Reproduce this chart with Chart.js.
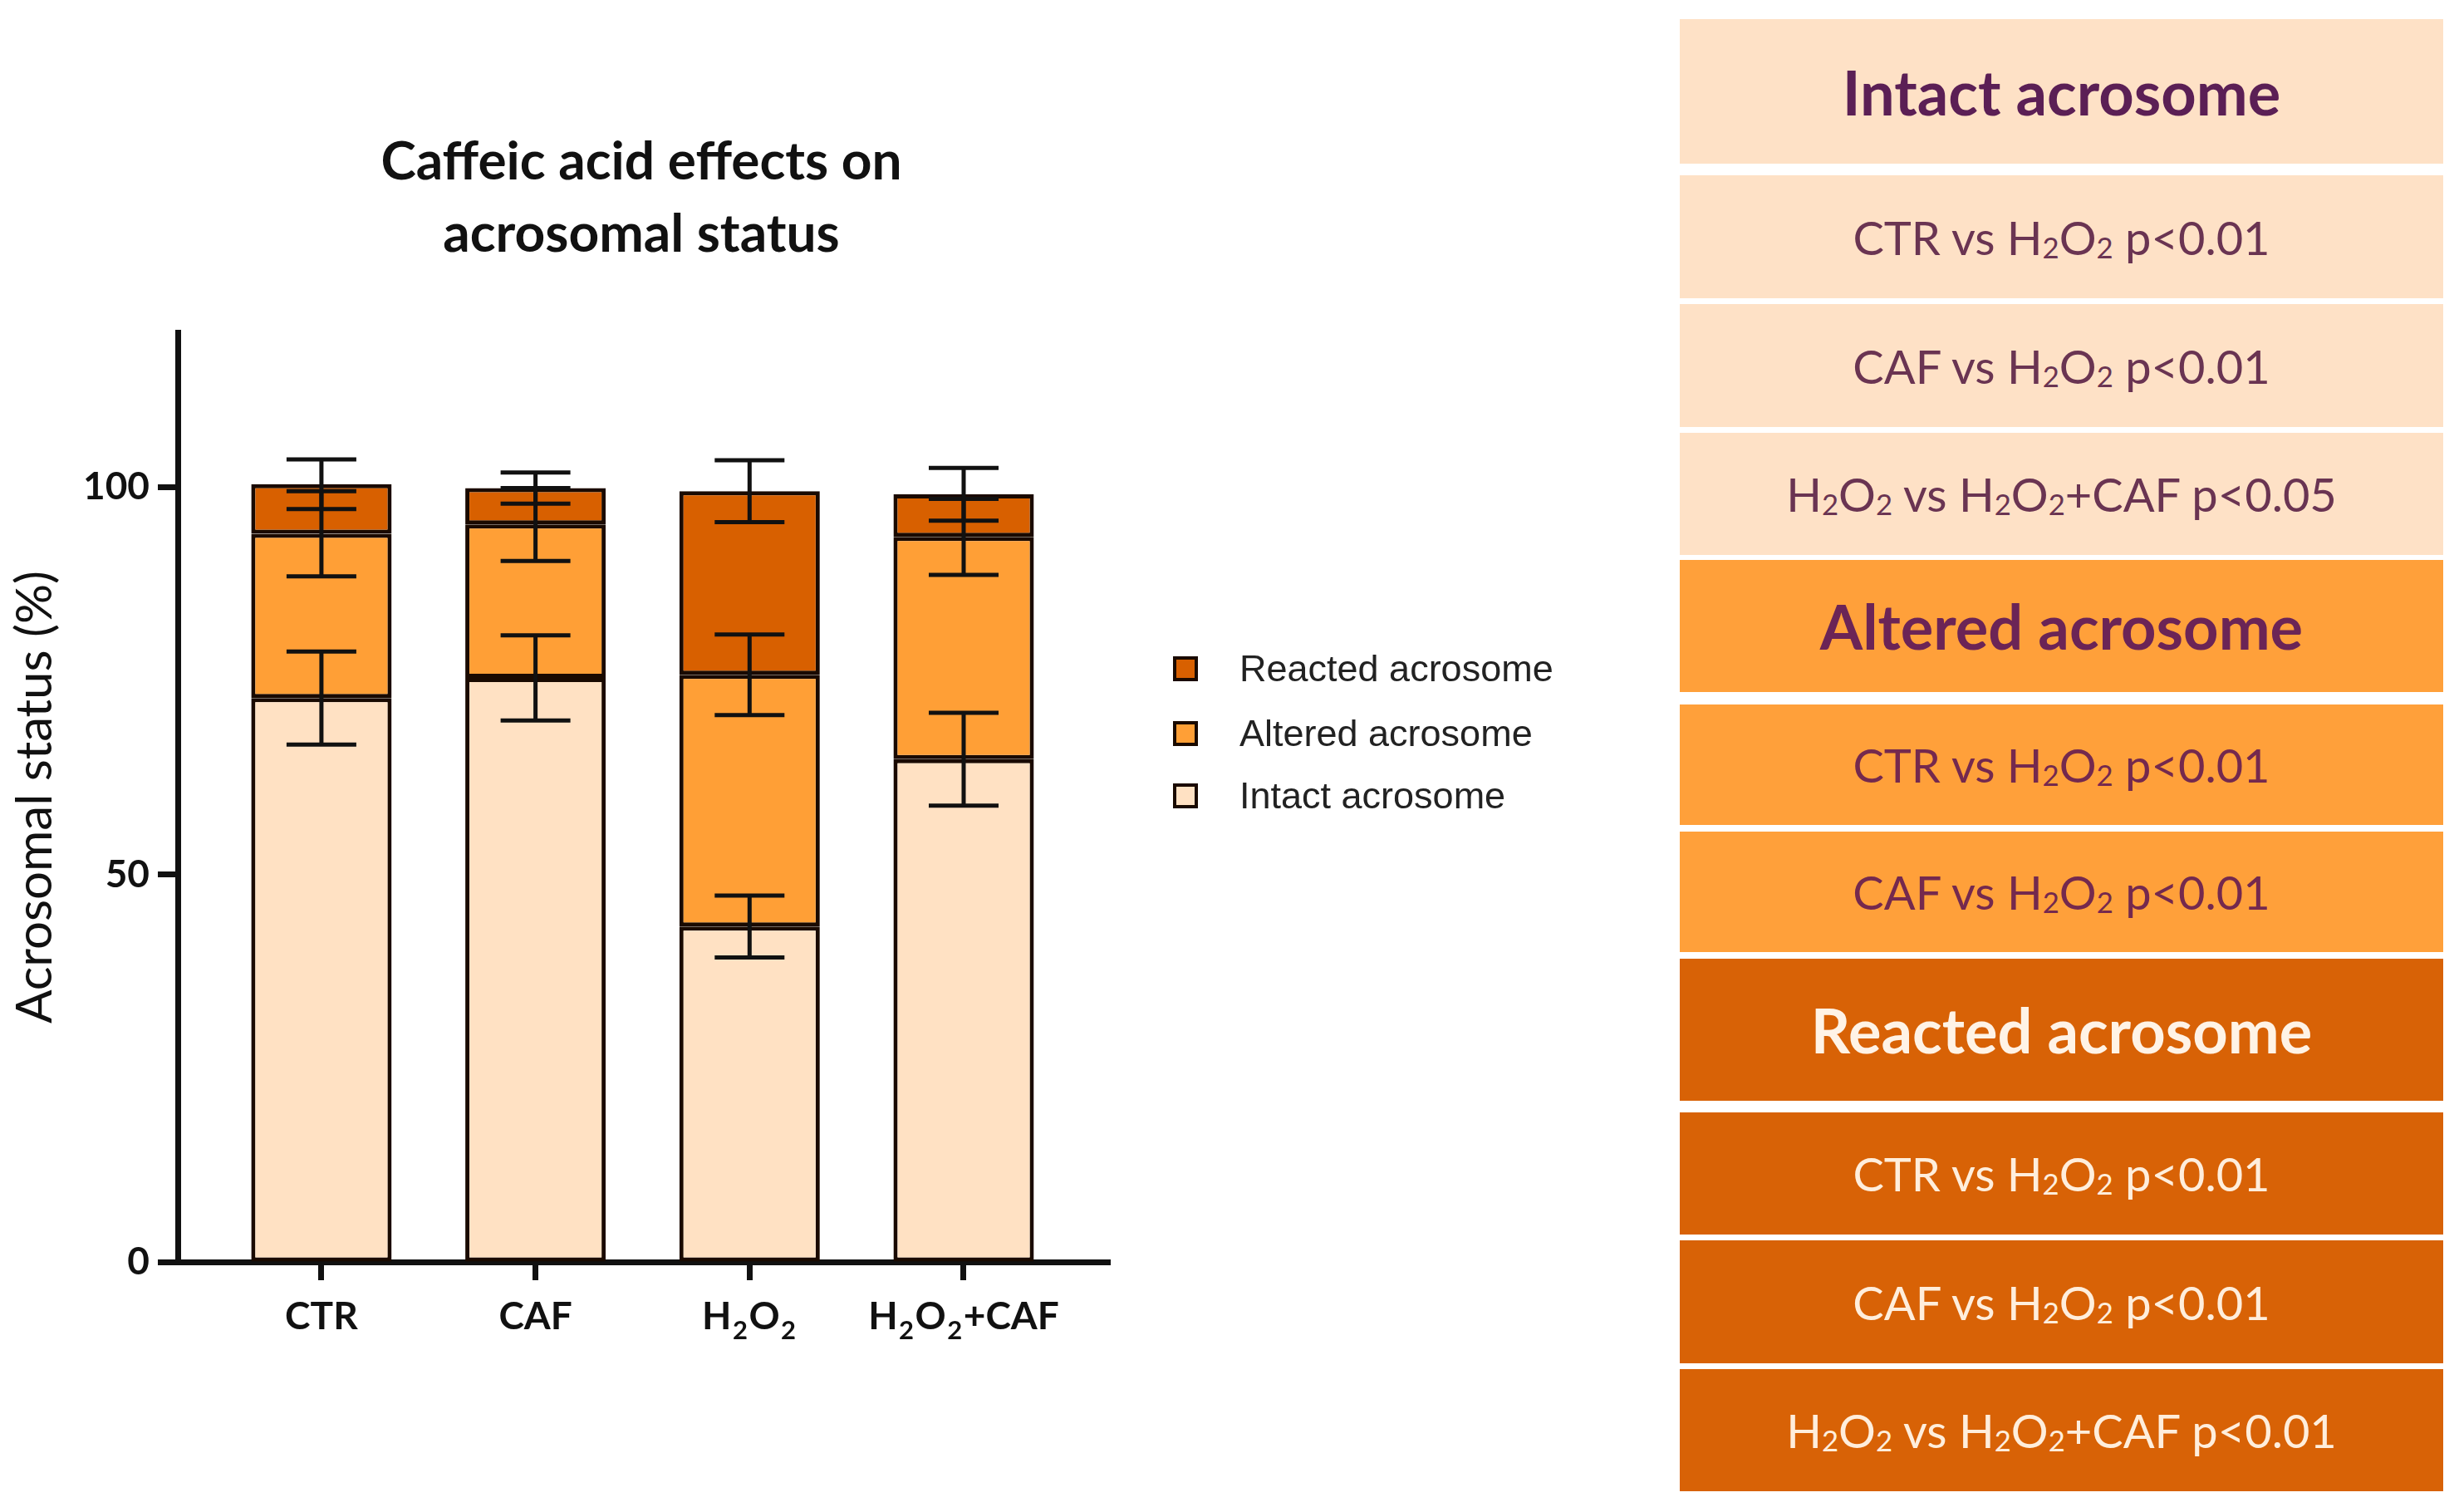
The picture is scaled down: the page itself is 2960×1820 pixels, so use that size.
<!DOCTYPE html>
<html>
<head>
<meta charset="utf-8">
<script src="https://cdn.jsdelivr.net/npm/chart.js@4.4.1/dist/chart.umd.min.js"></script>
<style>
  html, body { margin: 0; padding: 0; background: #fff; }
  body { width: 2960px; height: 1820px; position: relative; overflow: hidden; }
  #chart { position: absolute; left: 0; top: 0; }
  .legend { position: absolute; left: 1412px; top: 770px; font-family: "Liberation Sans", Arial, sans-serif; font-size: 45px; color: #222; }
  .legend .item { position: absolute; left: 0; height: 50px; white-space: nowrap; }
  .legend .sw { position: absolute; left: 0; top: 10px; width: 22px; height: 22px; border: 4px solid #1a0a00; }
  .legend .lbl { position: absolute; left: 80px; top: 0; line-height: 50px; }
  .cell { position: absolute; left: 2022px; width: 919px; display: flex; align-items: center; justify-content: center;
          font-family: Lato, "Noto Sans", sans-serif; white-space: nowrap; }
  .cell.hdr { font-weight: 700; font-size: 74px; }
  .cell.row { font-weight: 400; font-size: 56px; }
  .cell span { display: inline-block; }
  .cell sub { font-size: 0.62em; vertical-align: -0.12em; line-height: 0; }
</style>
</head>
<body>
<canvas id="chart" width="1544" height="1820"></canvas>
<div class="legend" id="legend"></div>
<div id="panel"></div>
<script>
// data (% of sperm cells, mean and SD)
var categories = ['CTR', 'CAF', 'H₂O₂', 'H₂O₂+CAF'];
var seriesNames = ['Intact acrosome', 'Altered acrosome', 'Reacted acrosome'];
var intact = [72.8, 75.4, 43.3, 64.9];
var altered = [21.2, 19.8, 32.5, 28.7];
var reacted = [6.4, 4.7, 23.7, 5.5];
var intactSd = [6.0, 5.5, 4.0, 6.0];
var alteredSd = [5.5, 4.7, 5.2, 4.9];
var reactedSd = [3.2, 2.0, 4.0, 3.4];
var yTicks = [0, 50, 100];

// statistics table on the right
var intactTests = ['CTR vs H₂O₂ p<0.01', 'CAF vs H₂O₂ p<0.01', 'H₂O₂ vs H₂O₂+CAF p<0.05'];
var alteredTests = ['CTR vs H₂O₂ p<0.01', 'CAF vs H₂O₂ p<0.01'];
var reactedTests = ['CTR vs H₂O₂ p<0.01', 'CAF vs H₂O₂ p<0.01', 'H₂O₂ vs H₂O₂+CAF p<0.01'];

var barColors = ['#FFE1C3', '#FF9F36', '#D86000'];
var ink = '#111111';

function toPoints(arr) {
    return arr.map(function (v, i) { return {x: i, y: v}; });
}

var values = [intact, altered, reacted];
var sds = [intactSd, alteredSd, reactedSd];

// error bars at the cumulative top of each stacked segment
var errorBars = {
    id: 'errorBars',
    afterDatasetsDraw: function (chart) {
        var ctx = chart.ctx;
        var xs = chart.scales.x, ys = chart.scales.y;
        ctx.save();
        ctx.strokeStyle = ink;
        ctx.lineWidth = 5;
        for (var s = 0; s < values.length; s++) {
            for (var i = 0; i < categories.length; i++) {
                var top = 0;
                for (var k = 0; k <= s; k++) top += values[k][i];
                var x = xs.getPixelForValue(i);
                var y1 = ys.getPixelForValue(top + sds[s][i]);
                var y2 = ys.getPixelForValue(top - sds[s][i]);
                ctx.beginPath();
                ctx.moveTo(x, y1); ctx.lineTo(x, y2);
                ctx.moveTo(x - 42, y1); ctx.lineTo(x + 42, y1);
                ctx.moveTo(x - 42, y2); ctx.lineTo(x + 42, y2);
                ctx.stroke();
            }
        }
        ctx.restore();
    }
};

// category labels with real subscripts
var xLabels = {
    id: 'xLabels',
    afterDraw: function (chart) {
        var ctx = chart.ctx;
        var xs = chart.scales.x;
        var big = 'bold 46px Lato, "Noto Sans", sans-serif';
        var small = 'bold 31px Lato, "Noto Sans", sans-serif';
        var y = chart.chartArea.bottom + 81;
        ctx.save();
        ctx.fillStyle = ink;
        ctx.textBaseline = 'alphabetic';
        categories.forEach(function (label, i) {
            var parts = label.split('').map(function (ch) {
                return ch === '₂' ? {t: '2', sub: true} : {t: ch, sub: false};
            });
            var w = 0;
            parts.forEach(function (p) { ctx.font = p.sub ? small : big; p.w = ctx.measureText(p.t).width + (p.sub ? 3 : 0); w += p.w; });
            var x = xs.getPixelForValue(i) - w / 2;
            parts.forEach(function (p) {
                ctx.font = p.sub ? small : big;
                ctx.fillText(p.t, x + (p.sub ? 1.5 : 0), p.sub ? y + 12 : y);
                x += p.w;
            });
        });
        ctx.restore();
    }
};

var chart = new Chart(document.getElementById('chart'), {
    type: 'bar',
    data: {
        datasets: values.map(function (arr, s) {
            return {
                label: seriesNames[s],
                data: toPoints(arr),
                backgroundColor: barColors[s],
                borderColor: '#1a0a00',
                borderWidth: 5,
                borderSkipped: false,
                barPercentage: 0.656,
                categoryPercentage: 1
            };
        })
    },
    options: {
        responsive: false,
        animation: false,
        devicePixelRatio: 1,
        layout: {padding: 0},
        plugins: {
            legend: {display: false},
            tooltip: {enabled: false},
            title: {
                display: true,
                text: ['Caffeic acid effects on', 'acrosomal status'],
                color: ink,
                font: {family: 'Lato', weight: 'bold', size: 64, lineHeight: 1.36},
                padding: {top: 152, bottom: 74}
            }
        },
        scales: {
            x: {
                type: 'linear',
                stacked: true,
                offset: false,
                min: -0.671,
                max: 3.683,
                afterBuildTicks: function (s) { s.ticks = categories.map(function (c, i) { return {value: i}; }); },
                afterFit: function (s) { s.height = 301; },
                ticks: {display: false},
                grid: {offset: false, drawOnChartArea: false, tickLength: 22, tickWidth: 7, tickColor: ink},
                border: {width: 7, color: ink}
            },
            y: {
                stacked: true,
                min: 0,
                max: 120,
                afterBuildTicks: function (s) { s.ticks = yTicks.map(function (v) { return {value: v}; }); },
                afterFit: function (s) { s.width = 214; },
                ticks: {color: ink, padding: 10, font: {family: 'Lato', weight: 'bold', size: 46}},
                grid: {drawOnChartArea: false, tickLength: 24, tickWidth: 7, tickColor: ink},
                border: {width: 7, color: ink},
                title: {
                    display: true,
                    text: 'Acrosomal status (%)',
                    color: ink,
                    padding: {top: 7, bottom: 0},
                    font: {family: 'Lato', size: 60, weight: 'normal'}
                }
            },
            // empty spacer on the right so the title centres over the whole figure area
            spacer: {
                type: 'linear',
                position: 'right',
                display: true,
                ticks: {display: false},
                grid: {display: false},
                border: {display: false},
                afterFit: function (s) { s.width = 208; }
            }
        }
    },
    plugins: [errorBars, xLabels]
});

// legend, reversed like the original
var legendEl = document.getElementById('legend');
var legendTops = [10, 88, 163];
[2, 1, 0].forEach(function (s, n) {
    var item = document.createElement('div');
    item.className = 'item';
    item.style.top = legendTops[n] + 'px';
    item.innerHTML = '<span class="sw" style="background:' + barColors[s] + '"></span><span class="lbl">' + seriesNames[s] + '</span>';
    legendEl.appendChild(item);
});

// right-hand table
var panelColors = ['#FEE1C6', '#FFA03A', '#D86206'];
var panelText = ['#5B1F55', '#6B2456', '#FFF3E6'];
var rowText = ['#6A3452', '#74294E', '#FFEEDC'];
var groups = [intactTests, alteredTests, reactedTests];
var boxes = [[23, 174], [211, 148], [366, 148], [521, 147], [674, 159], [848, 145], [1001, 145],
             [1154, 171], [1339, 147], [1493, 148], [1648, 147]];
function subs(t) { return t.replace(/₂/g, '<sub>2</sub>'); }
var panel = document.getElementById('panel');
var b = 0;
groups.forEach(function (tests, g) {
    var rows = [{t: seriesNames[g], hdr: true}].concat(tests.map(function (t) { return {t: t, hdr: false}; }));
    rows.forEach(function (r) {
        var d = document.createElement('div');
        d.className = 'cell ' + (r.hdr ? 'hdr' : 'row');
        d.style.top = boxes[b][0] + 'px';
        d.style.height = boxes[b][1] + 'px';
        d.style.background = panelColors[g];
        d.style.color = r.hdr ? panelText[g] : rowText[g];
        d.innerHTML = '<span>' + subs(r.t) + '</span>';
        panel.appendChild(d);
        b++;
    });
});
</script>
</body>
</html>
